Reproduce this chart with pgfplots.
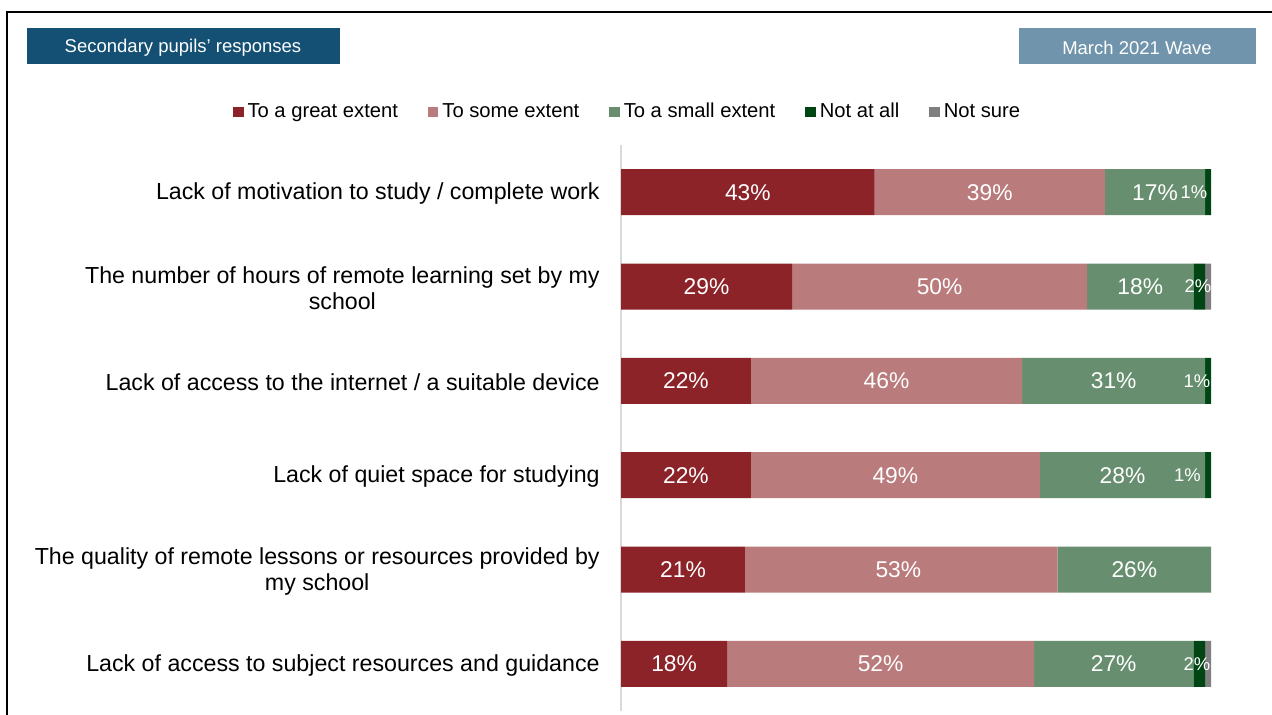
\documentclass[border=0pt]{standalone}
\usepackage{pgfplots}
\pgfplotsset{compat=1.18}
\usepackage{pgfplotstable}
\usepackage{fontspec}
\setmainfont{Liberation Sans}
\definecolor{cGreat}{RGB}{139,35,41}
\definecolor{cSome}{RGB}{185,123,124}
\definecolor{cSmall}{RGB}{103,143,111}
\definecolor{cNot}{RGB}{0,70,20}
\definecolor{cSure}{RGB}{127,127,127}
\definecolor{boxA}{RGB}{19,80,115}
\definecolor{boxB}{RGB}{112,148,172}
\pgfplotstableread{
y great some small notatall notsure
0 43 39 17 1 0
1 29 50 18 2 1
2 22 46 31 1 0
3 22 49 28 1 0
4 21 53 26 0 0
5 18 52 27 2 1
}\data
\begin{document}
\begin{tikzpicture}
\useasboundingbox (0,0) rectangle (636pt,-357.5pt);
\draw[line width=1.2pt] (3.5pt,-360pt) -- (3.5pt,-6pt) -- (640pt,-6pt);
\fill[boxA] (13.5pt,-14pt) rectangle (170pt,-32pt);
\node[text=white,font=\fontsize{9.25}{11}\selectfont] at (91.5pt,-23.8pt) {Secondary pupils’ responses};
\fill[boxB] (509.5pt,-14pt) rectangle (628pt,-32pt);
\node[text=white,font=\fontsize{9.25}{11}\selectfont] at (568.5pt,-23.8pt) {March 2021 Wave};
\begin{axis}[
  at={(310.5pt,-72.5pt)}, anchor=north west,
  scale only axis, width=295pt, height=283pt,
  xbar stacked, bar width=23pt,
  xmin=0, xmax=100, ymin=-0.5, ymax=5.5, y dir=reverse,
  axis y line*=left, axis x line=none,
  y axis line style={draw=black!15, line width=0.6pt},
  major tick length=0pt,
  ytick={0,...,5},
  yticklabels={{Lack of motivation to study / complete work},
    {The number of hours of remote learning set by my\\school},
    {Lack of access to the internet / a suitable device},
    {Lack of quiet space for studying},
    {The quality of remote lessons or resources provided by\\my school},
    {Lack of access to subject resources and guidance}},
  yticklabel style={align=center, inner sep=0pt, xshift=-10.5pt, yshift=-0.8pt,
    font=\fontsize{11.6}{13}\selectfont},
  legend style={draw=none, at={(0.013,1.0585)}, anchor=center,
    font=\fontsize{10.1}{12}\selectfont, legend columns=5,
    /tikz/every even column/.append style={column sep=13pt},
    inner sep=0pt},
  legend cell align=left,
  legend image code/.code={\fill[#1] (0pt,-2.6pt) rectangle (5.2pt,2.6pt);},
]
\addplot[fill=cGreat, draw=none] table[x=great, y=y] {\data};
\addplot[fill=cSome, draw=none] table[x=some, y=y] {\data};
\addplot[fill=cSmall, draw=none] table[x=small, y=y] {\data};
\addplot[fill=cNot, draw=none] table[x=notatall, y=y] {\data};
\addplot[fill=cSure, draw=none] table[x=notsure, y=y] {\data};
\legend{To a great extent, To some extent, To a small extent, Not at all, Not sure}
\end{axis}
\begin{axis}[
  at={(310.5pt,-72.5pt)}, anchor=north west,
  scale only axis, width=295pt, height=283pt,
  xmin=0, xmax=100, ymin=-0.5, ymax=5.5, y dir=reverse,
  hide axis,
]
\addplot[only marks, mark=none, draw=none, nodes near coords, point meta=explicit symbolic,
  every node near coord/.style={anchor=center, text=white, font=\fontsize{11.4}{13}\selectfont}]
  coordinates {
  (21.5,0) [43\%] (62.5,0) [39\%] (90.5,0) [17\%]
  (14.5,1) [29\%] (54,1) [50\%] (88,1) [18\%]
  (11,2) [22\%] (45,2) [46\%] (83.5,2) [31\%]
  (11,3) [22\%] (46.5,3) [49\%] (85,3) [28\%]
  (10.5,4) [21\%] (47,4) [53\%] (87,4) [26\%]
  (9,5) [18\%] (44,5) [52\%] (83.5,5) [27\%]
  };
\addplot[only marks, mark=none, draw=none, nodes near coords, point meta=explicit symbolic,
  every node near coord/.style={anchor=center, text=white, font=\fontsize{9.2}{11}\selectfont}]
  coordinates {
  (97.1,0) [1\%] (97.8,1) [2\%] (97.6,2) [1\%] (96,3) [1\%] (97.6,5) [2\%]
  };
\end{axis}
\end{tikzpicture}
\end{document}
